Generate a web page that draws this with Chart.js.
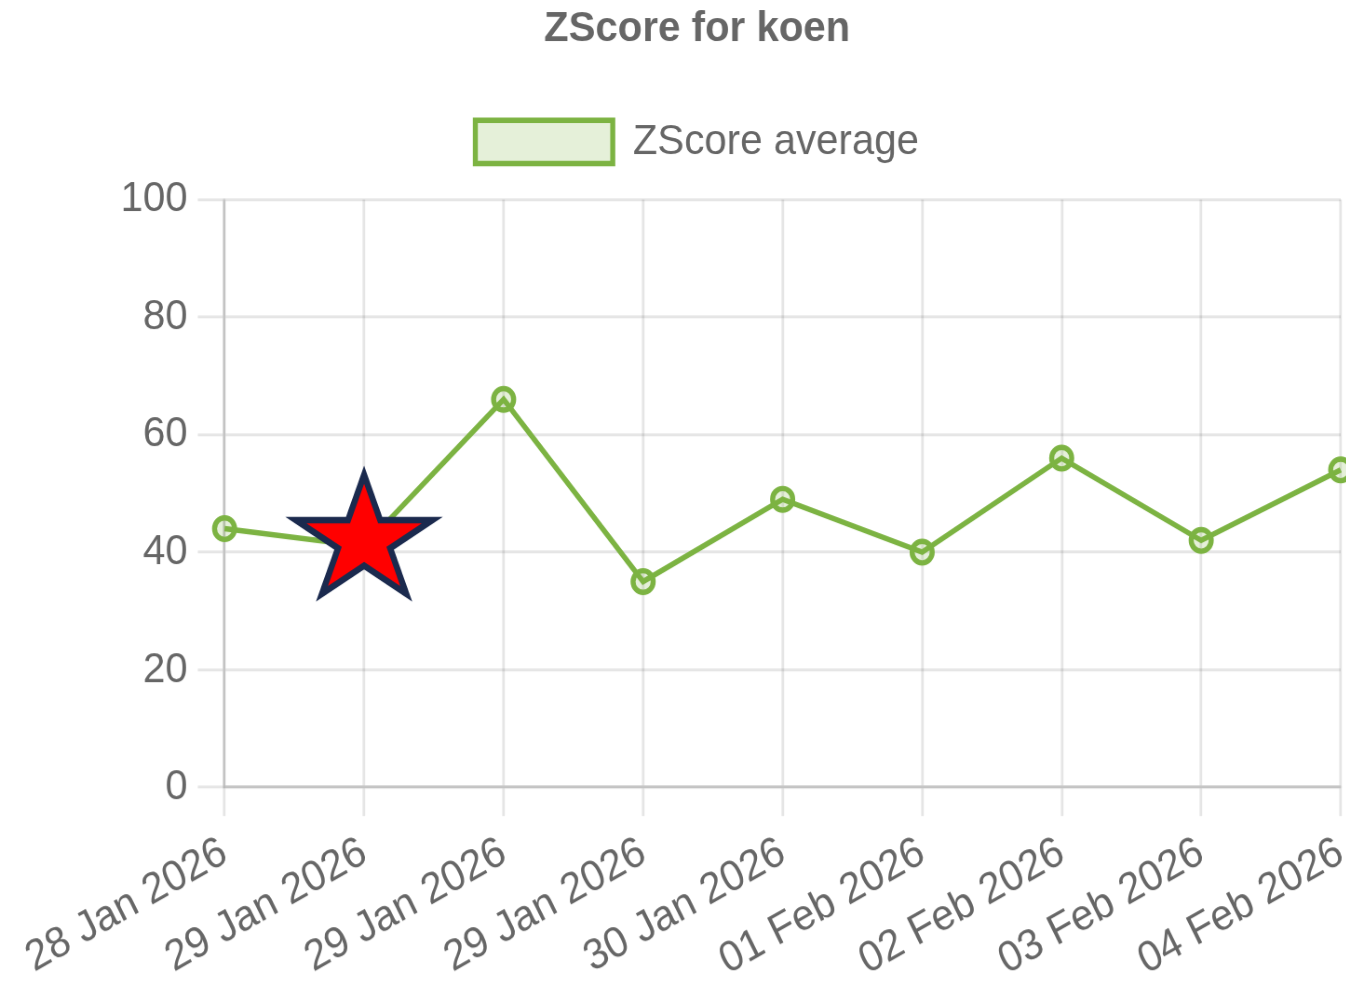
<!DOCTYPE html>
<html>
<head>
<meta charset="utf-8">
<title>ZScore for koen</title>
<script src="https://cdn.jsdelivr.net/npm/chart.js@4.4.1/dist/chart.umd.min.js"></script>
<style>
  html { overflow: hidden; }
  body { margin: 0; padding: 0; background: #fff; width: 1346px; height: 981px; }
  /* the chart is drawn small with default sizes and blown up, like the screenshot */
  #wrap { width: 428px; height: 277px; transform: scale(3.35, 3.6); transform-origin: 0 0; }
  #zscoreChart { display: block; }
</style>
</head>
<body>
<div id="wrap"><canvas id="zscoreChart" width="428" height="277"></canvas></div>
<script>
// data
var dates = ['28 Jan 2026', '29 Jan 2026', '29 Jan 2026', '29 Jan 2026', '30 Jan 2026',
             '01 Feb 2026', '02 Feb 2026', '03 Feb 2026', '04 Feb 2026'];
var zscoreAverage = [44, 41, 66, 35, 49, 40, 56, 42, 54];
var yTicks = [0, 20, 40, 60, 80, 100];
var markedIndex = 1; // point hidden under the red star

var green = 'rgb(124, 179, 66)';
var greenFill = 'rgba(124, 179, 66, 0.2)';

// red star with a dark blue border, used as the marker of that point
function starSvg() {
    var cx = 28, cy = 22.4, rx = 21.4, ry = 18.3;
    var pts = [];
    for (var i = 0; i < 10; i++) {
        var a = -Math.PI / 2 + i * Math.PI / 5;
        var f = (i % 2 === 0) ? 1 : 0.382;
        pts.push((cx + Math.cos(a) * rx * f).toFixed(2) + ',' + (cy + Math.sin(a) * ry * f).toFixed(2));
    }
    return '<svg xmlns="http://www.w3.org/2000/svg" width="56" height="48" viewBox="0 0 56 48">' +
        '<polygon points="' + pts.join(' ') + '" fill="#ff0000" stroke="#1b2a4e" stroke-width="1.8"/></svg>';
}

var star = new Image(56, 48);
star.onload = drawChart;
star.src = 'data:image/svg+xml;charset=utf-8,' + encodeURIComponent(starSvg());

function drawChart() {
    Chart.defaults.font.family = '"Liberation Sans", Arial, sans-serif';
    Chart.defaults.color = '#666';

    var pointStyles = dates.map(function(d, i) { return i === markedIndex ? star : 'circle'; });

    var ctx = document.getElementById('zscoreChart').getContext('2d');
    var myChart = new Chart(ctx, {
        type: 'line',
        data: {
            labels: dates,
            datasets: [{
                label: 'ZScore average',
                data: zscoreAverage,
                borderColor: green,
                backgroundColor: greenFill,
                borderWidth: 1.5,
                pointStyle: pointStyles,
                pointRadius: 3,
                pointBorderWidth: 1.5,
                pointBackgroundColor: greenFill,
                pointBorderColor: green,
                tension: 0,
                fill: false
            }]
        },
        options: {
            responsive: false,
            animation: false,
            devicePixelRatio: 3.6,
            layout: { padding: { left: 16, right: 28 } },
            plugins: {
                title: {
                    display: true,
                    text: 'ZScore for koen',
                    font: { size: 12, weight: 'bold' },
                    padding: { top: 1, bottom: 8 }
                },
                legend: {
                    labels: { boxWidth: 41, boxHeight: 12, padding: 10 }
                },
                tooltip: { enabled: false }
            },
            scales: {
                x: {
                    grid: { color: 'rgba(0,0,0,0.1)', lineWidth: 0.8 },
                    border: { color: 'rgba(0,0,0,0.15)', width: 0.8 },
                    ticks: { autoSkip: false, minRotation: 28, maxRotation: 28 }
                },
                y: {
                    min: 0,
                    max: 100,
                    afterBuildTicks: function(axis) {
                        axis.ticks = yTicks.map(function(v) { return { value: v }; });
                    },
                    afterFit: function(axis) { axis.width = 51; },
                    grid: { color: 'rgba(0,0,0,0.1)', lineWidth: 0.8 },
                    border: { color: 'rgba(0,0,0,0.15)', width: 0.8 }
                }
            }
        }
    });
}
</script>
</body>
</html>
